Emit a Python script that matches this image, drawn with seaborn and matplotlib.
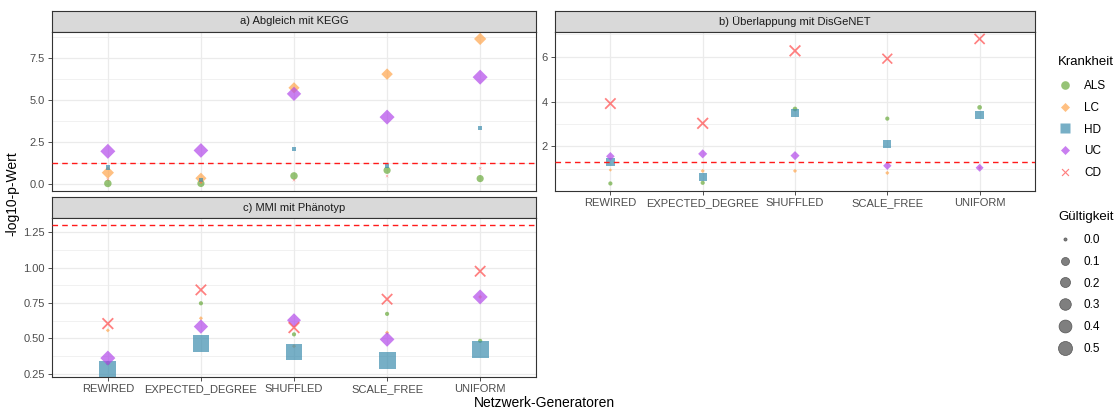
import numpy as np
import pandas as pd
import matplotlib
matplotlib.use("Agg")
import matplotlib.pyplot as plt
from matplotlib.path import Path
from matplotlib.lines import Line2D
from matplotlib.ticker import MultipleLocator, FormatStrFormatter
import seaborn as sns

# Daten
generatoren = ["REWIRED", "EXPECTED_DEGREE", "SHUFFLED", "SCALE_FREE", "UNIFORM"]
krankheiten = ["ALS", "LC", "HD", "UC", "CD"]
schwelle = 1.301  # -log10(0.05)

# a) Abgleich mit KEGG
kegg_wert = {
    "ALS": [0.06, 0.06, 0.51, 0.84, 0.35],
    "LC":  [0.70, 0.37, 5.74, 6.55, 8.64],
    "HD":  [1.00, 0.27, 2.10, 1.10, 3.33],
    "UC":  [1.97, 2.02, 5.38, 4.00, 6.37],
    "CD":  [0.30, 0.12, 0.26, 0.50, 0.96],
}
kegg_gueltig = {
    "ALS": [0.08, 0.07, 0.08, 0.07, 0.07],
    "LC":  [0.31, 0.24, 0.24, 0.26, 0.31],
    "HD":  [0.002, 0.003, 0.003, 0.003, 0.001],
    "UC":  [0.53, 0.50, 0.47, 0.53, 0.53],
    "CD":  [0.0, 0.0, 0.0, 0.0, 0.0],
}

# b) Überlappung mit DisGeNET
disgenet_wert = {
    "ALS": [0.35, 0.38, 3.67, 3.24, 3.74],
    "LC":  [0.95, 0.91, 0.91, 0.82, 1.05],
    "HD":  [1.32, 0.65, 3.50, 2.10, 3.40],
    "UC":  [1.56, 1.67, 1.59, 1.14, 1.05],
    "CD":  [3.91, 3.03, 6.26, 5.91, 6.79],
}
disgenet_gueltig = {
    "ALS": [0.005, 0.005, 0.01, 0.005, 0.01],
    "LC":  [0.0, 0.003, 0.003, 0.003, 0.0],
    "HD":  [0.07, 0.055, 0.064, 0.055, 0.085],
    "UC":  [0.11, 0.13, 0.13, 0.10, 0.085],
    "CD":  [0.41, 0.44, 0.44, 0.35, 0.38],
}

# c) MMI mit Phänotyp
mmi_wert = {
    "ALS": [0.325, 0.748, 0.528, 0.673, 0.482],
    "LC":  [0.556, 0.642, 0.444, 0.540, 0.793],
    "HD":  [0.277, 0.461, 0.403, 0.341, 0.422],
    "UC":  [0.360, 0.583, 0.628, 0.492, 0.793],
    "CD":  [0.604, 0.843, 0.576, 0.777, 0.975],
}
mmi_gueltig = {
    "ALS": [0.005, 0.005, 0.005, 0.005, 0.005],
    "LC":  [0.002, 0.003, 0.003, 0.003, 0.002],
    "HD":  [0.60, 0.55, 0.55, 0.58, 0.55],
    "UC":  [0.53, 0.47, 0.44, 0.50, 0.53],
    "CD":  [0.44, 0.41, 0.44, 0.41, 0.41],
}

gueltigkeit_stufen = [0.0, 0.1, 0.2, 0.3, 0.4, 0.5]

# Stil
plt.rcParams["font.family"] = ["Liberation Sans", "DejaVu Sans"]

farben = {"ALS": "#6AAA3C", "LC": "#FFA64D", "HD": "#3D8DAE", "UC": "#B249EA", "CD": "#FF4A4A"}

raute = Path([(0, 1), (1, 0), (0, -1), (-1, 0), (0, 1)],
             [Path.MOVETO, Path.LINETO, Path.LINETO, Path.LINETO, Path.CLOSEPOLY])

# gefülltes X als Polygon (Pluszeichen um 45 Grad gedreht)
h, L = 0.12, 1.0
plus = np.array([(h, h), (h, L), (-h, L), (-h, h), (-L, h), (-L, -h),
                 (-h, -h), (-h, -L), (h, -L), (h, -h), (L, -h), (L, h), (h, h)])
c, s = np.cos(np.pi / 4), np.sin(np.pi / 4)
kreuz_xy = plus @ np.array([[c, s], [-s, c]])
kreuz = Path(kreuz_xy, [Path.MOVETO] + [Path.LINETO] * 11 + [Path.CLOSEPOLY])

marker = {"ALS": "o", "LC": raute, "HD": "s", "UC": raute, "CD": kreuz}
faktor = {"ALS": 1.0, "LC": 1.05, "HD": 1.15, "UC": 1.05, "CD": 0.9}


def durchmesser(v):
    # Durchmesser in pt, wie ggplot: linear in sqrt(Wert)
    return 2.23 + 11.1 * np.sqrt(v)


W, H = 1115, 415
fig = plt.figure(figsize=(W / 100, H / 100), dpi=100)


def box(x0, y0, x1, y1):
    return [x0 / W, 1 - y1 / H, (x1 - x0) / W, (y1 - y0) / H]


def streifen(rect, text):
    sa = fig.add_axes(rect)
    sa.set_facecolor("#D9D9D9")
    sa.set_xticks([])
    sa.set_yticks([])
    for sp in sa.spines.values():
        sp.set_color("#333333")
        sp.set_linewidth(0.8)
    sa.text(0.5, 0.5, text, ha="center", va="center", fontsize=8, color="#1A1A1A",
            transform=sa.transAxes)


def panel(rect, werte, gueltig, major, fmt, xlabels=True):
    ax = fig.add_axes(rect)
    for k in krankheiten:
        df = pd.DataFrame({"Generator": generatoren, "Wert": werte[k], "Gültigkeit": gueltig[k]})
        groessen = {v: (faktor[k] * durchmesser(v)) ** 2 for v in df["Gültigkeit"].unique()}
        sns.scatterplot(data=df, x="Generator", y="Wert", size="Gültigkeit", sizes=groessen,
                        marker=marker[k], color=farben[k], alpha=0.7, linewidth=0,
                        edgecolor="none", legend=False, ax=ax, zorder=2)
    ax.axhline(schwelle, color="#FF1A1A", linestyle=(0, (4, 3)), linewidth=1.0, zorder=3)

    alle = [v for k in krankheiten for v in werte[k]] + [schwelle]
    lo, hi = min(alle), max(alle)
    pad = 0.05 * (hi - lo)
    ax.set_ylim(lo - pad, hi + pad)
    ax.set_xlim(-0.6, len(generatoren) - 0.4)

    ax.yaxis.set_major_locator(MultipleLocator(major))
    ax.yaxis.set_minor_locator(MultipleLocator(major / 2))
    ax.yaxis.set_major_formatter(FormatStrFormatter(fmt))
    ax.grid(which="major", color="#EBEBEB", linewidth=0.9)
    ax.grid(which="minor", axis="y", color="#EBEBEB", linewidth=0.5)
    ax.set_axisbelow(True)
    ax.set_xlabel("")
    ax.set_ylabel("")
    for sp in ax.spines.values():
        sp.set_color("#333333")
        sp.set_linewidth(0.8)
    ax.tick_params(which="major", length=3, width=0.6, color="#333333",
                   labelsize=8, labelcolor="#4D4D4D", pad=2)
    ax.tick_params(which="minor", length=0)
    if not xlabels:
        ax.tick_params(axis="x", length=0, labelbottom=False)
    return ax


# Panels wie facet_wrap
streifen(box(52, 10.7, 536, 31.7), "a) Abgleich mit KEGG")
panel(box(52, 31.7, 536, 190.7), kegg_wert, kegg_gueltig, 2.5, "%.1f", xlabels=False)

streifen(box(555, 10.7, 1035, 31.7), "b) Überlappung mit DisGeNET")
panel(box(555, 31.7, 1035, 190.7), disgenet_wert, disgenet_gueltig, 2, "%d")

streifen(box(52, 197, 536, 218), "c) MMI mit Phänotyp")
panel(box(52, 218, 536, 377), mmi_wert, mmi_gueltig, 0.25, "%.2f")

fig.text(12 / W, 1 - 194 / H, "-log10-p-Wert", rotation=90, ha="center", va="center",
         fontsize=10, color="black")
fig.text(544 / W, 1 - 403 / H, "Netzwerk-Generatoren", ha="center", va="center",
         fontsize=10, color="black")

# Legenden (Titel separat gesetzt)
fig.text(1058 / W, 1 - 62 / H, "Krankheit", ha="left", va="center", fontsize=9.5)
h1 = [Line2D([], [], linestyle="none", marker=marker[k], markersize=6.2 * faktor[k],
             markerfacecolor=farben[k], markeredgecolor="none", alpha=0.7) for k in krankheiten]
fig.legend(h1, krankheiten, loc="upper left",
           bbox_to_anchor=(1058 / W, 1 - 80 / H), frameon=False, fontsize=8.5,
           labelspacing=0.83, handletextpad=1.0, handlelength=1.2,
           borderpad=0, borderaxespad=0)

fig.text(1058 / W, 1 - 217 / H, "Gültigkeit", ha="left", va="center", fontsize=9.5)
h2 = [Line2D([], [], linestyle="none", marker="o", markersize=durchmesser(v),
             markerfacecolor="#7F7F7F", markeredgecolor="#555555", markeredgewidth=0.5)
      for v in gueltigkeit_stufen]
fig.legend(h2, [f"{v:.1f}" for v in gueltigkeit_stufen],
           loc="upper left", bbox_to_anchor=(1058 / W, 1 - 234 / H), frameon=False,
           fontsize=8.5, labelspacing=0.83, handletextpad=1.0, handlelength=1.2,
           borderpad=0, borderaxespad=0)

fig.savefig("out.png", dpi=100)
